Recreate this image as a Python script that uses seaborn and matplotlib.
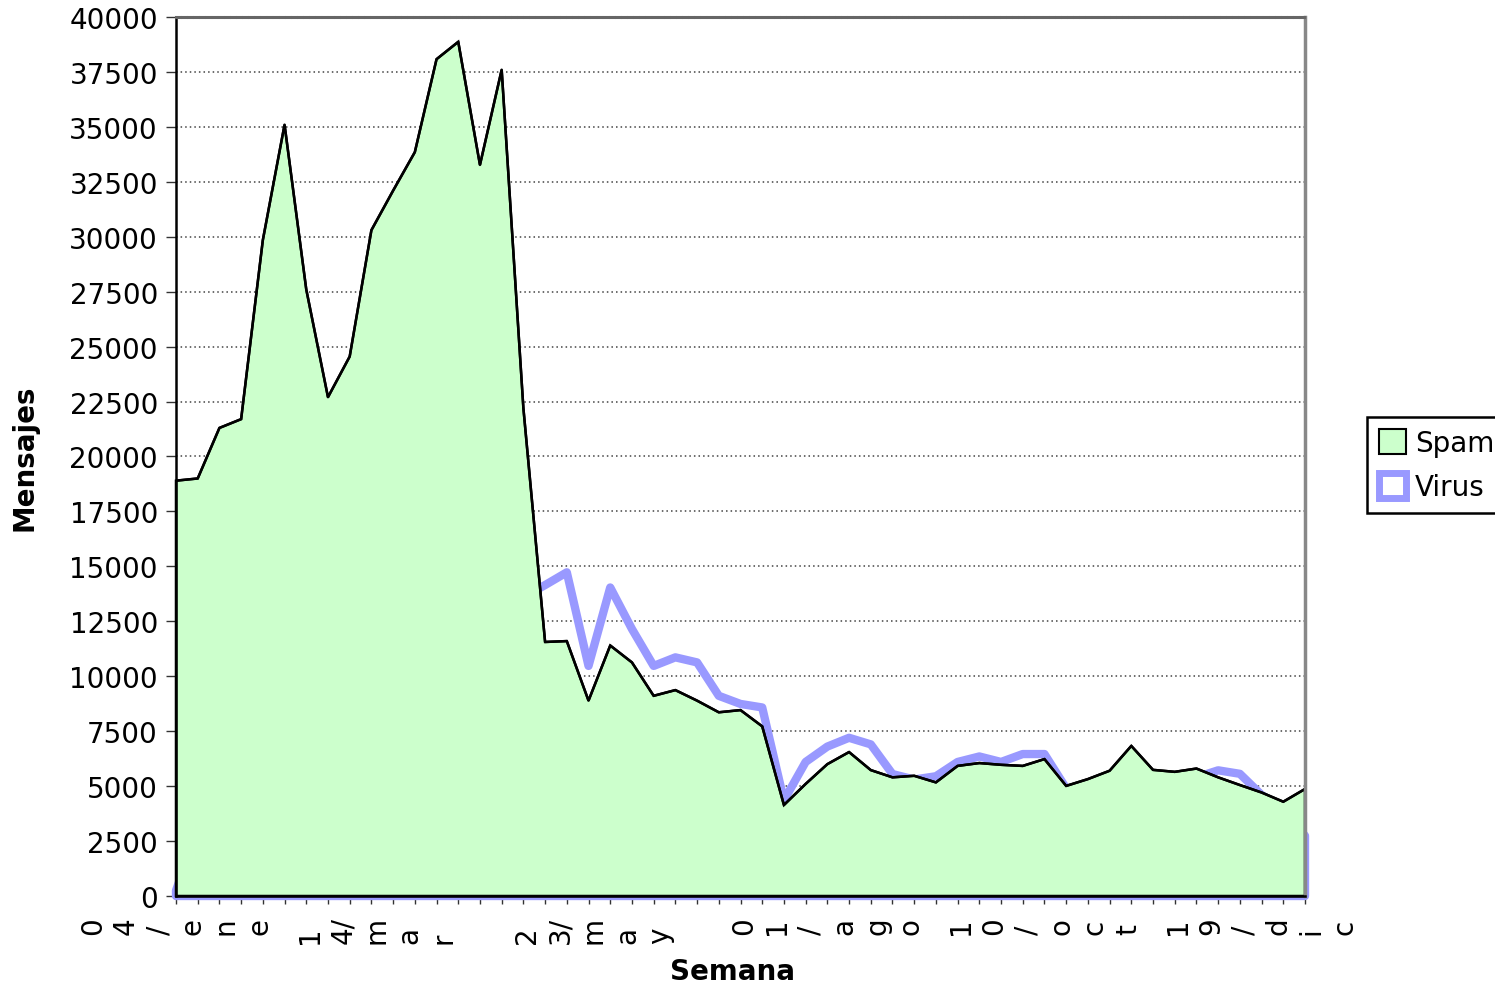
import numpy as np
import matplotlib
matplotlib.use("Agg")
import matplotlib.pyplot as plt
import seaborn as sns
from matplotlib.patches import Patch

# Weekly message counts
weeks = list(range(53))
spam = [18900, 19000, 21300, 21700, 29850, 35100, 27600, 22700, 24550, 30300,
        32100, 33850, 38080, 38870, 33270, 37600, 22200, 11560, 11600, 8890,
        11400, 10630, 9110, 9370, 8890, 8360, 8460, 7720, 4140, 5100,
        6000, 6550, 5730, 5400, 5470, 5170, 5920, 6050, 5970, 5920,
        6230, 5010, 5320, 5700, 6830, 5740, 5650, 5800, 5400, 5050,
        4710, 4290, 4870]
virus = [250, 3000, 5200, 6100, 7400, 9800, 8600, 7900, 8800, 10400,
         11200, 12100, 13600, 14300, 12800, 14900, 13600, 14150, 14730, 10470,
         14040, 12150, 10470, 10860, 10630, 9110, 8740, 8580, 4350, 6100,
         6800, 7200, 6900, 5550, 5300, 5450, 6100, 6350, 6100, 6460,
         6460, 4900, 5000, 5300, 5500, 5400, 5300, 5400, 5720, 5560,
         4600, 4000, 2740]

# Date labels, each one wrapped into rows of the rotated text
date_weeks = [0, 10, 20, 30, 40, 50]
date_rows = [["0", "4", "/", "e", "n", "e"],
             ["1", "4/", "m", "a", "r"],
             ["2", "3/", "m", "a", "y"],
             ["0", "1", "/", "a", "g", "o"],
             ["1", "0", "/", "o", "c", "t"],
             ["1", "9", "/", "d", "i", "c"]]

y_ticks = list(range(0, 40001, 2500))

SPAM_FILL = "#ccffcc"
VIRUS_EDGE = "#9999ff"

sns.set_theme(style="white")
plt.rcParams["font.family"] = ["DejaVu Sans"]
plt.rcParams["text.color"] = "black"
plt.rcParams["axes.labelcolor"] = "black"
plt.rcParams["xtick.color"] = "#333333"
plt.rcParams["ytick.color"] = "#333333"

W, H = 1495, 987
fig = plt.figure(figsize=(W / 100, H / 100), dpi=100)
ax_l, ax_r, ax_t, ax_b = 176, 1305, 18, 897
ax = fig.add_axes([ax_l / W, 1 - ax_b / H, (ax_r - ax_l) / W, (ax_b - ax_t) / H])
ax.set_facecolor("white")

ax.set_xlim(0, 52)
ax.set_ylim(0, 40000)

# horizontal dotted grid
ax.set_yticks(y_ticks)
ax.yaxis.grid(True, linestyle=(0, (1, 2)), color="#444444", linewidth=1.1)
ax.xaxis.grid(False)
ax.set_axisbelow(True)

wk = np.asarray(weeks, dtype=float)
sp = np.asarray(spam, dtype=float)
vi = np.asarray(virus, dtype=float)

# Virus: outlined area without fill, behind the spam area
ax.fill(np.r_[wk, wk[-1], wk[0]], np.r_[vi, 0, 0], facecolor="none",
        edgecolor=VIRUS_EDGE, linewidth=6.0, joinstyle="round",
        clip_on=False, zorder=2)

# Spam: filled area with black outline
ax.fill(np.r_[wk, wk[-1], wk[0]], np.r_[sp, 0, 0], facecolor=SPAM_FILL,
        edgecolor="black", linewidth=1.8, joinstyle="miter",
        clip_on=False, zorder=3)
sns.lineplot(x=weeks, y=spam, ax=ax, color="black", linewidth=1.8,
             estimator=None, sort=False, legend=False, zorder=4)

# spines
ax.spines["left"].set_color("black")
ax.spines["left"].set_linewidth(1.8)
ax.spines["bottom"].set_color("black")
ax.spines["bottom"].set_linewidth(1.8)
ax.spines["right"].set_color("#888888")
ax.spines["right"].set_linewidth(2.5)
ax.spines["top"].set_color("#666666")
ax.spines["top"].set_linewidth(2.2)
ax.spines["top"].set_linestyle((0, (1.2, 0.8)))
for s in ax.spines.values():
    s.set_zorder(5)

ax.set_yticklabels([str(v) for v in y_ticks], fontsize=20)
ax.tick_params(axis="y", which="major", direction="out", length=7, width=1,
               pad=6, left=True, labelcolor="black")
ax.set_xticks(weeks)
ax.set_xticklabels([])
ax.tick_params(axis="x", which="major", direction="out", length=6, width=1,
               bottom=True)

ax.set_xlabel("Semana", fontsize=20, fontweight="bold")
ax.set_ylabel("Mensajes", fontsize=20, fontweight="bold")
ax.xaxis.set_label_coords(0.493, -0.069)
ax.yaxis.set_label_coords(-0.122, 0.5)

# Rotated, wrapped date labels below the axis
row_step = 1.535
top_off = (917 - ax_b) / (ax_b - ax_t)
xform = ax.get_xaxis_transform()
blocks = []
for anchor, rows in zip(date_weeks, date_rows):
    texts = []
    for k, piece in enumerate(rows):
        t = ax.text(anchor + (k - 2.5) * row_step, -top_off, piece,
                    rotation=90, ha="center", va="bottom", fontsize=20,
                    transform=xform, clip_on=False, color="black")
        texts.append(t)
    blocks.append(texts)

fig.canvas.draw()
renderer = fig.canvas.get_renderer()
for texts in blocks:
    longest = max(t.get_window_extent(renderer).height for t in texts)
    y = -top_off - longest / (ax_b - ax_t)
    for t in texts:
        x, _ = t.get_position()
        t.set_position((x, y))

handles = [Patch(facecolor=SPAM_FILL, edgecolor="black", linewidth=1.5),
           Patch(facecolor="white", edgecolor=VIRUS_EDGE, linewidth=5,
                 joinstyle="round")]
leg = fig.legend(handles, ["Spam", "Virus"], loc="upper left",
                 bbox_to_anchor=(1367 / W, 1 - 418 / H),
                 bbox_transform=fig.transFigure, frameon=True, fancybox=False,
                 edgecolor="black", framealpha=1, borderpad=0.42,
                 handlelength=1.0, handleheight=1.0, handletextpad=0.3,
                 labelspacing=0.6, borderaxespad=0, fontsize=20)
leg.get_frame().set_linewidth(1.8)

fig.savefig("out.png", dpi=100)
